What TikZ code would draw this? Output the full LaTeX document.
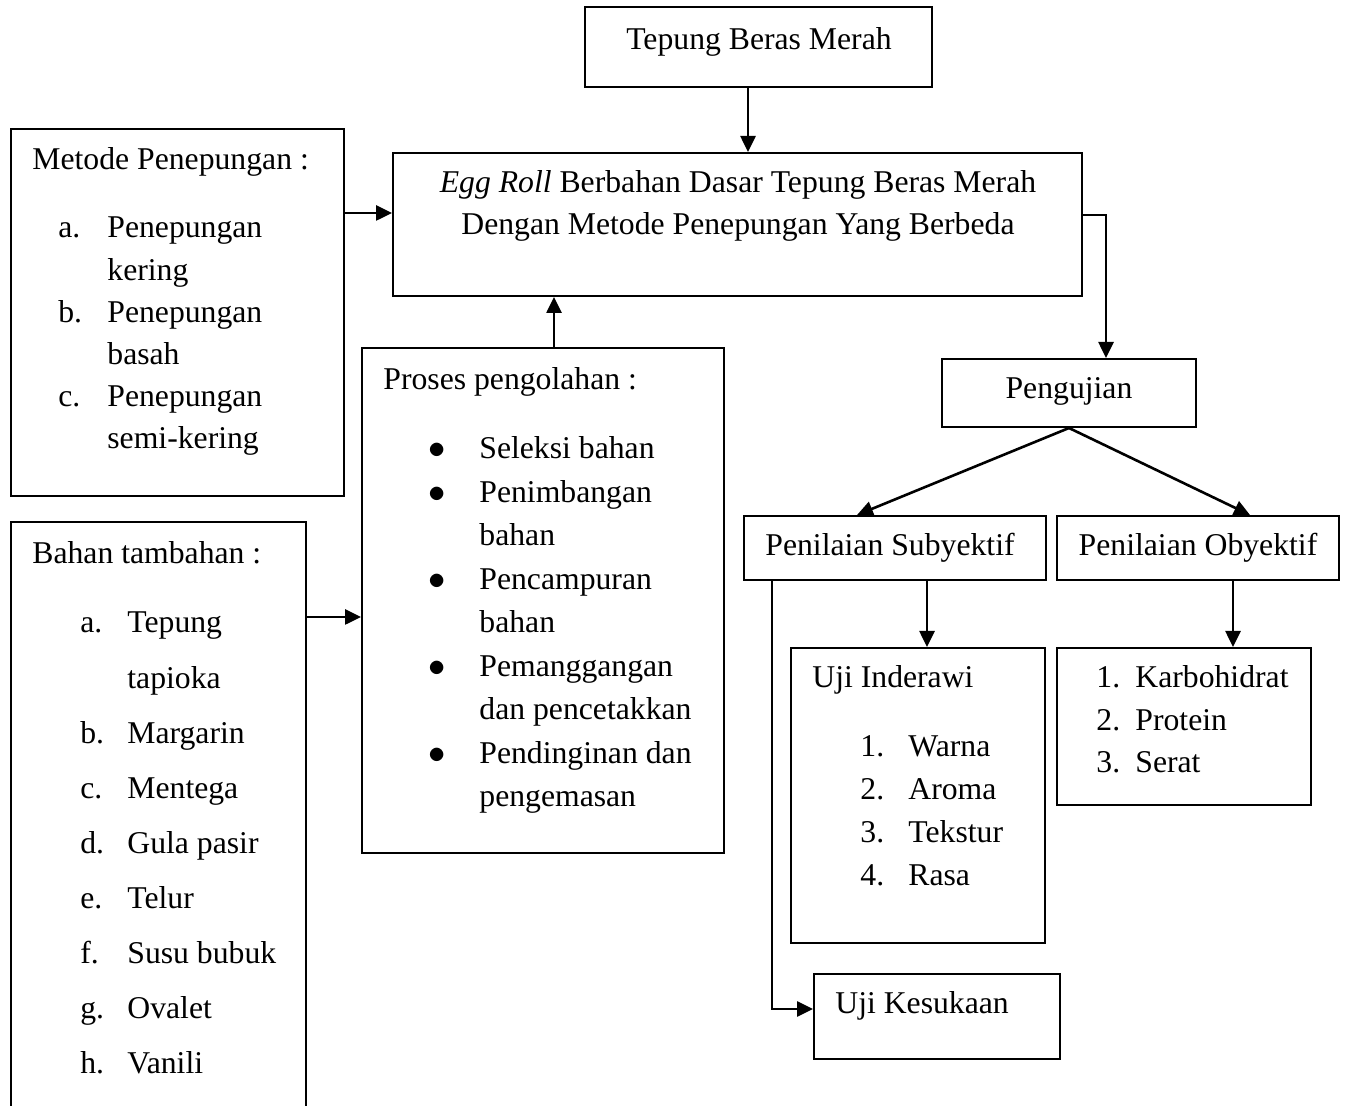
\documentclass[tikz,border=0pt]{standalone}
\usepackage{fontspec}
\setmainfont{Liberation Serif}
\usetikzlibrary{arrows.meta,fit}

\newcommand{\listrows}[2][l]{\begin{tabular}[t]{@{}#1@{}}#2\end{tabular}}

\begin{document}
\begin{tikzpicture}[x=0.5pt, y=-0.5pt,
    every node/.style={font=\fontsize{15.85}{19}\selectfont},
    box/.style={draw, line width=1pt, inner sep=0pt},
    txt/.style={anchor=base west, inner sep=0pt},
    mid/.style={anchor=base, inner sep=0pt},
    gap/.style={font=\fontsize{15.85}{#1}\selectfont},
    arr/.style={line width=1.3pt, -{Triangle[length=8pt,width=7.5pt]}}]
    \useasboundingbox (0,0) rectangle (1351,1106);

    % kotak
    \node[box, fit={(585,7) (932,87)}] (tepung) {};
    \node[box, fit={(393,153) (1082,296)}] (eggroll) {};
    \node[box, fit={(11,129) (344,496)}] (metode) {};
    \node[box, fit={(11,522) (306,1116)}] (bahan) {};
    \node[box, fit={(362,348) (724,853)}] (proses) {};
    \node[box, fit={(942,359) (1196,427)}] (pengujian) {};
    \node[box, fit={(744,516) (1046,580)}] (subyektif) {};
    \node[box, fit={(1057,516) (1339,580)}] (obyektif) {};
    \node[box, fit={(791,648) (1045,943)}] (inderawi) {};
    \node[box, fit={(1057,648) (1311,805)}] (kimia) {};
    \node[box, fit={(814,974) (1060,1059)}] (kesukaan) {};

    % teks
    \node[mid] (tepungtxt) at (759,50) {Tepung Beras Merah};
    \node[mid, gap=21] (eggtxt) at (738,193) {\listrows[c]{\textit{Egg Roll} Berbahan Dasar Tepung Beras Merah\\Dengan Metode Penepungan Yang Berbeda}};

    \node[txt] (metodetxt) at (32,170) {Metode Penepungan :};
    \node[txt, gap=21.1] (metodeabc) at (58,238) {\listrows{a.\\ \\b.\\ \\c.}};
    \node[txt, gap=21.1] (metodeisi) at (107,238) {\listrows{Penepungan\\kering\\Penepungan\\basah\\Penepungan\\semi-kering}};

    \node[txt] (bahantxt) at (32,564) {Bahan tambahan :};
    \node[txt, gap=27.55] (bahanabc) at (80,633) {\listrows{a.\\ \\b.\\c.\\d.\\e.\\f.\\g.\\h.}};
    \node[txt, gap=27.55] (bahanisi) at (127,633) {\listrows{Tepung\\tapioka\\Margarin\\Mentega\\Gula pasir\\Telur\\Susu bubuk\\Ovalet\\Vanili}};

    \node[txt] (prosestxt) at (383,390) {Proses pengolahan :};
    \node[mid, gap=21.75] (prosesdot) at (437,459) {\listrows[c]{$\bullet$\\$\bullet$\\ \\$\bullet$\\ \\$\bullet$\\ \\$\bullet$}};
    \node[txt, gap=21.75] (prosesisi) at (479,459) {\listrows{Seleksi bahan\\Penimbangan\\bahan\\Pencampuran\\bahan\\Pemanggangan\\dan pencetakkan\\Pendinginan dan\\pengemasan}};

    \node[mid] (pengujiantxt) at (1069,399) {Pengujian};
    \node[mid] (subyektiftxt) at (890,556) {Penilaian Subyektif};
    \node[mid] (obyektiftxt) at (1198,556) {Penilaian Obyektif};

    \node[txt] (inderawitxt) at (812,688) {Uji Inderawi};
    \node[txt, gap=21.35] (inderawino) at (860,757) {\listrows{1.\\2.\\3.\\4.}};
    \node[txt, gap=21.35] (inderawiisi) at (908,757) {\listrows{Warna\\Aroma\\Tekstur\\Rasa}};

    \node[txt, gap=21.25] (kimiano) at (1096,688) {\listrows{1.\\2.\\3.}};
    \node[txt, gap=21.25] (kimiaisi) at (1135,688) {\listrows{Karbohidrat\\Protein\\Serat}};

    \node[txt] (kesukaantxt) at (835,1014) {Uji Kesukaan};

    % panah
    \draw[arr] ([xshift=-5.25pt]tepung.south) -- ([xshift=-5.25pt]tepung.south |- eggroll.north);
    \draw[arr] ([yshift=49.75pt]metode.east) -- ([yshift=49.75pt]metode.east -| eggroll.west);
    \draw[arr] ([xshift=5.5pt]proses.north) -- ([xshift=5.5pt]proses.north |- eggroll.south);
    \draw[arr] ([yshift=-8.25pt]proses.west -| bahan.east) -- ([yshift=-8.25pt]proses.west);
    \draw[arr] ([yshift=4.75pt]eggroll.east) -| ([xshift=18.5pt]pengujian.north);
    \draw[arr] (pengujian.south) -- ([xshift=-19pt]subyektif.north);
    \draw[arr] (pengujian.south) -- ([xshift=26pt]obyektif.north);
    \draw[arr] ([xshift=16pt]subyektif.south) -- ([xshift=16pt]subyektif.south |- inderawi.north);
    \draw[arr] ([xshift=17.5pt]obyektif.south) -- ([xshift=17.5pt]obyektif.south |- kimia.north);
    \draw[arr] ([xshift=-61.5pt]subyektif.south) |- ([yshift=3.75pt]kesukaan.west);
\end{tikzpicture}
\end{document}
